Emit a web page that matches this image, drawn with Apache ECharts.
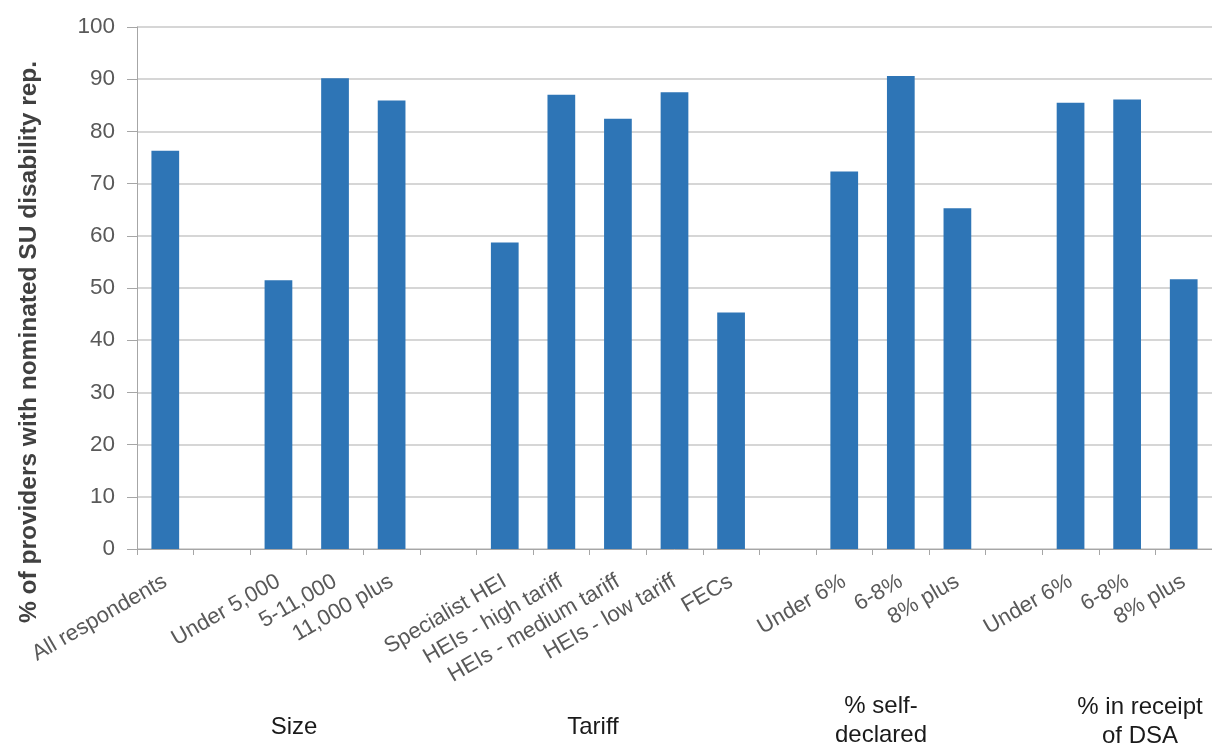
<!DOCTYPE html>
<html>
<head>
<meta charset="utf-8">
<script src="https://cdn.jsdelivr.net/npm/echarts@6/dist/echarts.min.js"></script>
<style>
  html, body { margin: 0; padding: 0; background: #ffffff; }
  #chart { width: 1212px; height: 749px; }
</style>
</head>
<body>
<div id="chart"></div>
<script>
// ---- Data ----
var categories = [
  "All respondents", "",
  "Under 5,000", "5-11,000", "11,000 plus", "",
  "Specialist HEI", "HEIs - high tariff", "HEIs - medium tariff", "HEIs - low tariff", "FECs", "",
  "Under 6%", "6-8%", "8% plus", "",
  "Under 6%", "6-8%", "8% plus"
];
var values = [
  76.3, null,
  51.5, 90.2, 85.9, null,
  58.7, 87.0, 82.4, 87.5, 45.3, null,
  72.3, 90.6, 65.3, null,
  85.5, 86.1, 51.7
];
var yAxisTitle = "% of providers with nominated SU disability rep.";
var groupLabels = ["Size", "Tariff", "% self-\ndeclared", "% in receipt\nof DSA"];

// ---- Chart ----
var chart = echarts.init(document.getElementById('chart'), null, { renderer: 'canvas' });
var FONT = "'Liberation Sans', Arial, sans-serif";

var option = {
  animation: false,
  backgroundColor: '#ffffff',
  grid: { left: 137, right: -10, top: 27, bottom: 200, containLabel: false },
  xAxis: {
    type: 'category',
    data: categories,
    boundaryGap: true,
    axisLine: { show: true, lineStyle: { color: '#a6a6a6', width: 1 } },
    axisTick: { show: true, interval: 0, length: 6, lineStyle: { color: '#a6a6a6' } },
    axisLabel: {
      interval: 0, rotate: 30, color: '#595959',
      fontSize: 22, fontFamily: FONT, margin: 31
    }
  },
  yAxis: {
    type: 'value',
    min: 0, max: 100, interval: 10,
    axisLine: { show: true, lineStyle: { color: '#a6a6a6', width: 1 } },
    axisTick: { show: true, length: 10, lineStyle: { color: '#a6a6a6' } },
    splitLine: { show: true, lineStyle: { color: '#d6d6d6', width: 2 } },
    axisLabel: { color: '#595959', fontSize: 22.5, fontFamily: FONT, margin: 22 }
  },
  series: [{
    type: 'bar',
    data: values,
    barWidth: '49%',
    itemStyle: { color: '#2e75b6' }
  }],
  graphic: [
    {
      type: 'text', x: 29, y: 342, rotation: Math.PI / 2,
      style: { text: yAxisTitle, fill: '#404040', font: "bold 24.5px " + FONT,
               textAlign: 'center', textVerticalAlign: 'middle' }
    },
    { type: 'text', x: 294, y: 727,
      style: { text: groupLabels[0], fill: '#1a1a1a', font: "24px " + FONT, textAlign: 'center', textVerticalAlign: 'middle' } },
    { type: 'text', x: 593, y: 727,
      style: { text: groupLabels[1], fill: '#1a1a1a', font: "24px " + FONT, textAlign: 'center', textVerticalAlign: 'middle' } },
    { type: 'text', x: 881, y: 721,
      style: { text: groupLabels[2], fill: '#1a1a1a', font: "24px " + FONT, textAlign: 'center', textVerticalAlign: 'middle', lineHeight: 29 } },
    { type: 'text', x: 1140, y: 722,
      style: { text: groupLabels[3], fill: '#1a1a1a', font: "24px " + FONT, textAlign: 'center', textVerticalAlign: 'middle', lineHeight: 29 } }
  ]
};
chart.setOption(option);
</script>
</body>
</html>
